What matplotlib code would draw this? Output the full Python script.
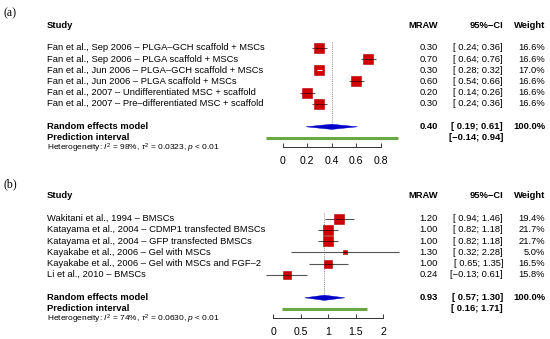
import numpy as np
import matplotlib
matplotlib.use('Agg')
import matplotlib.pyplot as plt
from matplotlib.patches import Polygon

plt.rcParams['font.family'] = ['Liberation Sans', 'DejaVu Sans']
plt.rcParams['mathtext.fontset'] = 'custom'
plt.rcParams['mathtext.rm'] = 'Liberation Sans'
plt.rcParams['mathtext.it'] = 'Liberation Sans:italic'

SQUARE_COLOR = '#d10000'
DIAMOND_COLOR = '#0000c8'
PI_COLOR = '#6aa842'
LINE_COLOR = '#555555'

# panel (a)
studies_a = [
    'Fan et al., Sep 2006 – PLGA–GCH scaffold + MSCs',
    'Fan et al., Sep 2006 – PLGA scaffold + MSCs',
    'Fan et al., Jun 2006 – PLGA–GCH scaffold + MSCs',
    'Fan et al., Jun 2006 – PLGA scaffold + MSCs',
    'Fan et al., 2007 – Undifferentiated MSC + scaffold',
    'Fan et al., 2007 – Pre–differentiated MSC + scaffold',
]
mraw_a = [0.30, 0.70, 0.30, 0.60, 0.20, 0.30]
lower_a = [0.24, 0.64, 0.28, 0.54, 0.14, 0.24]
upper_a = [0.36, 0.76, 0.32, 0.66, 0.26, 0.36]
weight_a = [16.6, 16.6, 17.0, 16.6, 16.6, 16.6]
random_a = [0.40, 0.19, 0.61]
predict_a = [-0.14, 0.94]
het_a = ['98%', '0.0323', '0.01']
ticks_a = [0, 0.2, 0.4, 0.6, 0.8]
ticklabels_a = ['0', '0.2', '0.4', '0.6', '0.8']

# panel (b)
studies_b = [
    'Wakitani et al., 1994 – BMSCs',
    'Katayama et al., 2004 – CDMP1 transfected BMSCs',
    'Katayama et al., 2004 – GFP transfected BMSCs',
    'Kayakabe et al., 2006 – Gel with MSCs',
    'Kayakabe et al., 2006 – Gel with MSCs and FGF–2',
    'Li et al., 2010 – BMSCs',
]
mraw_b = [1.20, 1.00, 1.00, 1.30, 1.00, 0.24]
lower_b = [0.94, 0.82, 0.82, 0.32, 0.65, -0.13]
upper_b = [1.46, 1.18, 1.18, 2.28, 1.35, 0.61]
weight_b = [19.4, 21.7, 21.7, 5.0, 16.5, 15.8]
random_b = [0.93, 0.57, 1.30]
predict_b = [0.16, 1.71]
het_b = ['74%', '0.0630', '0.01']
ticks_b = [0, 0.5, 1, 1.5, 2]
ticklabels_b = ['0', '0.5', '1', '1.5', '2']

W, H = 550, 339
FS = 6.75


def fmt_num(v):
    return f'{v:.2f}'.replace('-', '−')


def fmt_ci(lo, hi):
    return f'[{lo:5.2f}; {hi:.2f}]'.replace('-', '−')


def draw_panel(fig, ax_txt, label, top, x0, scale, studies, mraw, lower, upper,
               weight, random, predict, het, ticks, ticklabels):
    # rows in pixel coordinates
    y_label = top - 12
    y_head = top
    rows = [top + 22.8 + 11.2 * i for i in range(len(studies))]
    y_re = rows[-1] + 23
    y_pi = y_re + 10.7
    y_het = y_re + 21.5
    y_axis = y_re + 20.5

    ax_txt.text(3, y_label, label, fontsize=8.6, family='Liberation Serif',
                va='center', ha='left')
    ax_txt.text(47, y_head, 'Study', fontsize=FS, fontweight='bold', va='center')
    ax_txt.text(438, y_head, 'MRAW', fontsize=FS, fontweight='bold', va='center', ha='right')
    ax_txt.text(503, y_head, '95%−CI', fontsize=FS, fontweight='bold', va='center', ha='right')
    ax_txt.text(545, y_head, 'Weight', fontsize=FS, fontweight='bold', va='center', ha='right')

    for y, s, m, lo, hi, w in zip(rows, studies, mraw, lower, upper, weight):
        ax_txt.text(47, y, s, fontsize=FS, va='center')
        ax_txt.text(438, y, fmt_num(m), fontsize=FS, va='center', ha='right')
        ax_txt.text(503, y, fmt_ci(lo, hi), fontsize=FS, va='center', ha='right')
        ax_txt.text(545, y, f'{w:.1f}%', fontsize=FS, va='center', ha='right')

    ax_txt.text(47, y_re, 'Random effects model', fontsize=FS, fontweight='bold', va='center')
    ax_txt.text(438, y_re, fmt_num(random[0]), fontsize=FS, fontweight='bold', va='center', ha='right')
    ax_txt.text(503, y_re, fmt_ci(random[1], random[2]), fontsize=FS, fontweight='bold', va='center', ha='right')
    ax_txt.text(545, y_re, '100.0%', fontsize=FS, fontweight='bold', va='center', ha='right')
    ax_txt.text(47, y_pi, 'Prediction interval', fontsize=FS, fontweight='bold', va='center')
    ax_txt.text(503, y_pi, fmt_ci(predict[0], predict[1]), fontsize=FS, fontweight='bold', va='center', ha='right')
    ax_txt.text(47, y_het,
                f'Heterogeneity: $I^2$ = {het[0]}, $\\tau^2$ = {het[1]}, $p$ < {het[2]}',
                fontsize=6.05, va='center')

    # forest axes: x in effect units, y in pixels
    ax = fig.add_axes([0, 0, 1, 1], facecolor='none')
    ax.set_xlim((0 - x0) / scale, (W - x0) / scale)
    ax.set_ylim(H, 0)
    for side in ['top', 'left', 'right']:
        ax.spines[side].set_visible(False)
    ax.spines['bottom'].set_position(('data', y_axis))
    ax.spines['bottom'].set_bounds(ticks[0], ticks[-1])
    ax.spines['bottom'].set_linewidth(0.7)
    ax.spines['bottom'].set_color('#333333')
    ax.set_yticks([])
    ax.set_xticks(ticks)
    ax.set_xticklabels(ticklabels)
    ax.tick_params(axis='x', direction='in', length=3, width=0.7, color='#333333',
                   labelsize=7.6, pad=6.5)

    # reference line at pooled estimate
    ax.vlines(random[0], rows[0] - 6, y_re - 3, colors='#888888', linewidth=0.7,
              linestyles=(0, (1, 1.2)))

    wmax = max(weight)
    for y, m, lo, hi, w in zip(rows, mraw, lower, upper, weight):
        side_px = 10 * np.sqrt(w / wmax)
        ax.plot(m, y, marker='s', markersize=side_px * 0.72, color=SQUARE_COLOR,
                markeredgecolor='#b00000', markeredgewidth=0.4, zorder=3)
        half = side_px / 2 / scale
        inside = lo > m - half and hi < m + half
        ax.hlines(y, lo, hi, colors='white' if inside else LINE_COLOR,
                  linewidth=0.8, zorder=4 if inside else 2)
        if not inside:
            ax.hlines(y, max(lo, m - half), min(hi, m + half), colors='#400000',
                      linewidth=0.6, zorder=4)

    diamond = Polygon([[random[1], y_re], [random[0], y_re - 2.6],
                       [random[2], y_re], [random[0], y_re + 2.6]],
                      closed=True, facecolor=DIAMOND_COLOR, edgecolor=DIAMOND_COLOR,
                      linewidth=0.3, zorder=3)
    ax.add_patch(diamond)
    ax.hlines(y_pi, predict[0], predict[1], colors=PI_COLOR, linewidth=2.2)
    return ax


fig = plt.figure(figsize=(W / 100, H / 100), dpi=100)
ax_txt = fig.add_axes([0, 0, 1, 1])
ax_txt.set_xlim(0, W)
ax_txt.set_ylim(H, 0)
ax_txt.axis('off')

draw_panel(fig, ax_txt, '(a)', 25, 282.7, 122.5, studies_a, mraw_a, lower_a,
           upper_a, weight_a, random_a, predict_a, het_a, ticks_a, ticklabels_a)
draw_panel(fig, ax_txt, '(b)', 196, 273.3, 55.0, studies_b, mraw_b, lower_b,
           upper_b, weight_b, random_b, predict_b, het_b, ticks_b, ticklabels_b)

fig.savefig('out.png', dpi=100)
plt.close(fig)
